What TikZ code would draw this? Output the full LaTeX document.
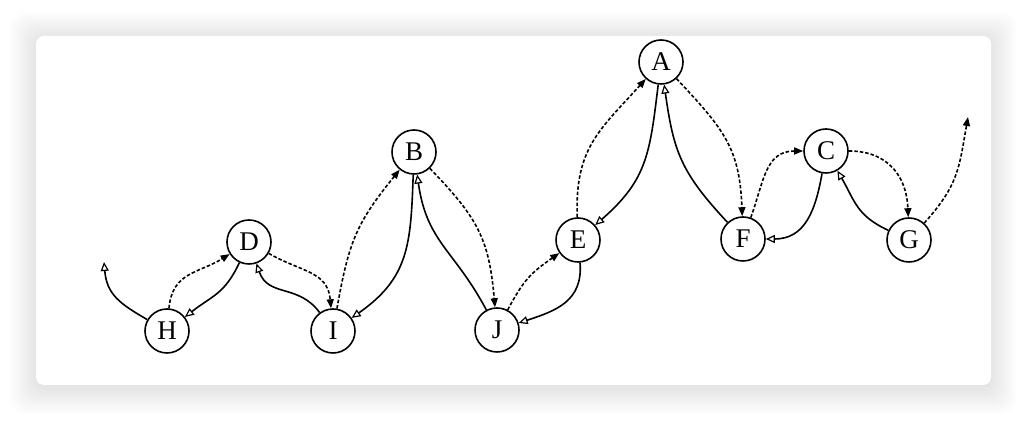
\documentclass[tikz,border=0pt]{standalone}
\usepackage{fontspec}
\setmainfont{Liberation Serif}
\usetikzlibrary{shapes,arrows,arrows.meta,positioning}

\tikzset{
	vertex/.style={circle, draw, line width=1.6pt, minimum size=44pt, inner sep=0pt, fill=white, font=\fontsize{27}{27}\selectfont},
	tree/.style={-{Triangle[open, length=9pt, width=8pt, line width=1.2pt]}, line width=1.6pt, looseness=1.15},
	thread/.style={-{Triangle[length=9pt, width=7pt]}, line width=1.6pt, dash pattern=on 3.5pt off 2pt, looseness=1.15},
}

\begin{document}
\begin{tikzpicture}[x=1pt, y=1pt]
				\useasboundingbox (0,0) rectangle (1028,422);
				% card and its soft shadow
				\foreach \s in {1,...,26}
					\fill[black, opacity=0.0045, rounded corners=14pt] (36-\s,37-\s-3) rectangle (991+\s,386+\s-2);
				\fill[white, rounded corners=8pt] (36,37) rectangle (991,386);

				\node[vertex] (A) at (661,360) {A};
				\node[vertex] (B) at (414,270) {B};
				\node[vertex] (C) at (826,271) {C};
				\node[vertex] (D) at (249,180) {D};
				\node[vertex] (E) at (578,182) {E};
				\node[vertex] (F) at (743,183) {F};
				\node[vertex] (G) at (909,182) {G};
				\node[vertex] (H) at (167,91) {H};
				\node[vertex] (I) at (333,91) {I};
				\node[vertex] (J) at (497,92) {J};
				\coordinate (start) at (104,160);
				\coordinate (finish) at (968,305);

				% solid: tree edges, dashed: threads
				\draw [tree] 	(H) to[out=150, in=-85] (start);
				\draw [thread] 	(H) to[out=85, in=212] (D);
				\draw [tree] 	(D) to[out=245, in=38] (H);
				\draw [thread] 	(D) to[out=-30, in=95] (I);
				\draw [tree] 	(I) to[out=126, in=-71] (D);
				\draw [thread] 	(I) to[out=80, in=231] (B);
				\draw [tree] 	(B) to[out=-92, in=35] (I);
				\draw [thread] 	(B) to[out=-46, in=95] (J);
				\draw [tree] 	(J) to[out=118, in=-82] (B);
				\draw [thread] 	(J) to[out=62, in=215] (E);
				\draw [tree] 	(E) to[out=-85, in=18] (J);
				\draw [thread] 	(E) to[out=92, in=228] (A);
				\draw [tree] 	(A) to[out=-97, in=41] (E);
				\draw [thread] 	(A) to[out=-47, in=92] (F);
				\draw [tree] 	(F) to[out=133, in=-82] (A);
				\draw [thread] 	(F) to[out=70, in=180] (C);
				\draw [tree] 	(C) to[out=-100, in=0] (F);
				\draw [thread] 	(C) to[out=0, in=92] (G);
				\draw [tree] 	(G) to[out=155, in=-60] (C);
				\draw [thread] 	(G) to[out=48, in=-100] (finish);
\end{tikzpicture}
\end{document}
